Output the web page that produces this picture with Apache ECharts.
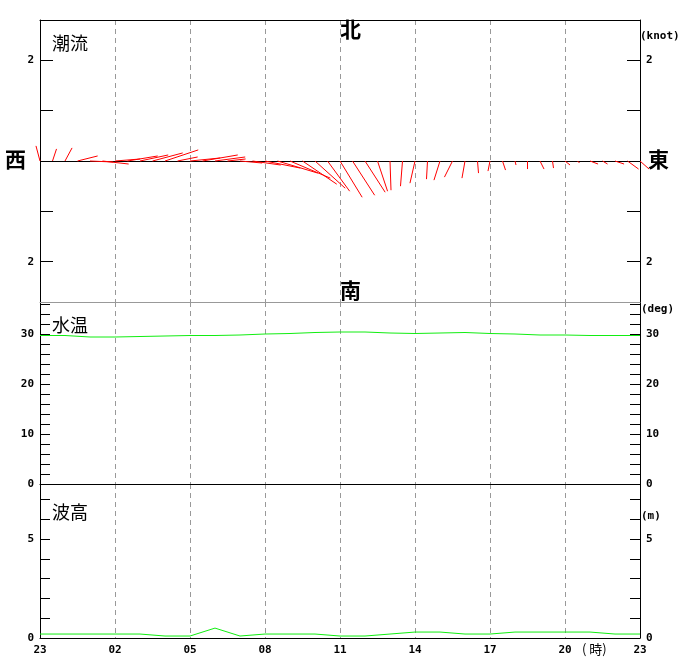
<!DOCTYPE html>
<html>
<head>
<meta charset="utf-8">
<script src="https://cdn.jsdelivr.net/npm/echarts@6/dist/echarts.min.js"></script>
<style>
  html, body { margin: 0; padding: 0; background: #fff; }
  #chart { width: 680px; height: 660px; }
</style>
</head>
<body>
<div id="chart"></div>
<script>
// 時刻ラベル（3時間ごと）
var hourLabels = ['23', '02', '05', '08', '11', '14', '17', '20', '23'];

// 潮流：30分ごと、東向き成分・北向き成分 (knot)
var currentTime = [0, 0.5, 1, 1.5, 2, 2.5, 3, 3.5, 4, 4.5, 5, 5.5, 6, 6.5, 7, 7.5,
  8, 8.5, 9, 9.5, 10, 10.5, 11, 11.5, 12, 12.5, 13, 13.5, 14, 14.5, 15, 15.5,
  16, 16.5, 17, 17.5, 18, 18.5, 19, 19.5, 20, 20.5, 21, 21.5, 22, 22.5, 23, 23.5, 24];
var currentEast = [-0.08, 0.08, 0.14, 0.40, 0.46, 0.52, 0.50, 0.60, 0.56, 0.60, 0.66, 0.40,
  0.60, 0.70, 0.60, 0.36, 0.44, 0.56, 0.70, 0.80, 0.80, 0.68, 0.60, 0.44,
  0.44, 0.44, 0.40, 0.20, 0.02, -0.04, -0.10, -0.02, -0.12, -0.16, -0.06, 0.02,
  -0.04, 0.06, 0.02, 0.00, 0.08, 0.02, 0.10, 0.04, 0.16, 0.10, 0.18, 0.22, 0.18];
var currentNorth = [0.30, 0.24, 0.26, 0.10, -0.02, -0.06, 0.04, 0.10, 0.12, 0.16, 0.22, 0.08,
  0.06, 0.12, 0.08, 0.04, -0.04, -0.08, -0.14, -0.24, -0.34, -0.46, -0.54, -0.60,
  -0.72, -0.68, -0.62, -0.60, -0.58, -0.50, -0.44, -0.36, -0.38, -0.32, -0.34, -0.24,
  -0.20, -0.18, -0.08, -0.16, -0.16, -0.14, -0.08, -0.04, -0.06, -0.06, -0.06, -0.16, -0.16];

// 水温・波高：1時間ごと
var hourTime = [0, 1, 2, 3, 4, 5, 6, 7, 8, 9, 10, 11, 12, 13, 14, 15, 16, 17, 18, 19, 20, 21, 22, 23, 24];
var waterTemp = [29.7, 29.7, 29.4, 29.4, 29.5, 29.6, 29.7, 29.7, 29.8, 30.0, 30.1, 30.3, 30.4,
  30.4, 30.2, 30.1, 30.2, 30.3, 30.1, 30.0, 29.8, 29.8, 29.7, 29.7, 29.7];
var waveHeight = [0.2, 0.2, 0.2, 0.2, 0.2, 0.1, 0.1, 0.5, 0.1, 0.2, 0.2, 0.2, 0.1,
  0.1, 0.2, 0.3, 0.3, 0.2, 0.2, 0.3, 0.3, 0.3, 0.3, 0.2, 0.2];

var currentTicks = [-2, -1, 1, 2];
var currentLabels = [-2, 2];
var tempTicks = [2, 4, 6, 8, 10, 12, 14, 16, 18, 20, 22, 24, 26, 28, 30, 32, 34, 36];
var tempLabels = [0, 10, 20, 30];
var waveTicks = [1, 2, 3, 4, 5, 6, 7];
var waveLabels = [0, 5];

var myChart = echarts.init(document.getElementById('chart'), null, { renderer: 'canvas' });

var numFont = { fontFamily: 'DejaVu Sans Mono', fontWeight: 'bold', fontSize: 11, color: '#000' };
var cjkFont = 'Noto Sans CJK JP';

function xAxisOf (grid, pos, lineColor, showSplit, showLabel) {
  return {
    type: 'value', gridIndex: grid, position: pos, min: 0, max: 24, interval: 3,
    axisLine: { show: true, onZero: false, lineStyle: { color: lineColor, width: 1 } },
    axisTick: { show: false },
    axisLabel: Object.assign({
      show: showLabel, margin: 7,
      formatter: function (v) { return hourLabels[Math.round(v / 3)]; }
    }, numFont),
    splitLine: { show: showSplit, lineStyle: { color: '#999', type: [5, 4], width: 1 } }
  };
}

function yAxisOf (grid, pos, min, max, ticks, labels, tickLen, fmt) {
  return {
    type: 'value', gridIndex: grid, position: pos, min: min, max: max,
    axisLine: { show: true, onZero: false, lineStyle: { color: '#000', width: 1 } },
    axisTick: { show: true, inside: true, length: tickLen, customValues: ticks, lineStyle: { color: '#000' } },
    axisLabel: Object.assign({ show: true, margin: 6, customValues: labels, formatter: fmt }, numFont),
    splitLine: { show: false }
  };
}

var absFmt = function (v) { return String(Math.abs(v)); };

var option = {
  backgroundColor: '#fff',
  animation: false,
  grid: [
    { left: 40, right: 40, top: 20, height: 282 },
    { left: 40, right: 40, top: 302, height: 182 },
    { left: 40, right: 40, top: 484, height: 154 }
  ],
  xAxis: [
    xAxisOf(0, 'top', '#000', true, false),
    xAxisOf(0, 'bottom', '#999', false, false),
    xAxisOf(1, 'bottom', '#000', true, false),
    xAxisOf(2, 'bottom', '#000', true, true)
  ],
  yAxis: [
    yAxisOf(0, 'left', -2.8, 2.8, currentTicks, currentLabels, 13, absFmt),
    yAxisOf(0, 'right', -2.8, 2.8, currentTicks, currentLabels, 13, absFmt),
    yAxisOf(1, 'left', 0, 36.4, tempTicks, tempLabels, 10, absFmt),
    yAxisOf(1, 'right', 0, 36.4, tempTicks, tempLabels, 10, absFmt),
    yAxisOf(2, 'left', 0, 7.78, waveTicks, waveLabels, 10, absFmt),
    yAxisOf(2, 'right', 0, 7.78, waveTicks, waveLabels, 10, absFmt)
  ],
  series: [
    {
      name: '潮流',
      type: 'custom',
      xAxisIndex: 0,
      yAxisIndex: 0,
      clip: false,
      z: 3,
      data: currentTime.map(function (t, i) { return [t, currentEast[i], currentNorth[i]]; }),
      encode: { x: 0, y: 2 },
      renderItem: function (params, api) {
        // 起点は中心線上、長さは y 軸の 1 knot 当たりの画素数で換算
        var start = api.coord([api.value(0), 0]);
        var unit = api.size([0, 1])[1];
        return {
          type: 'line',
          shape: {
            x1: start[0], y1: start[1],
            x2: start[0] + api.value(1) * unit,
            y2: start[1] - api.value(2) * unit
          },
          style: { stroke: '#ff0000', lineWidth: 1 }
        };
      },
      markLine: {
        silent: true, symbol: 'none', z: 2,
        label: { show: false },
        lineStyle: { color: '#000', type: 'solid', width: 1 },
        data: [{ yAxis: 0 }]
      }
    },
    {
      name: '水温',
      type: 'line',
      xAxisIndex: 2,
      yAxisIndex: 2,
      showSymbol: false,
      lineStyle: { color: '#11ee11', width: 1 },
      data: hourTime.map(function (t, i) { return [t, waterTemp[i]]; })
    },
    {
      name: '波高',
      type: 'line',
      xAxisIndex: 3,
      yAxisIndex: 4,
      showSymbol: false,
      lineStyle: { color: '#11ee11', width: 1 },
      data: hourTime.map(function (t, i) { return [t, waveHeight[i]]; })
    }
  ],
  graphic: [
    { type: 'text', left: 52, top: 34, style: { text: '潮流', font: '18px "' + cjkFont + '"', fill: '#000' } },
    { type: 'text', left: 52, top: 316, style: { text: '水温', font: '18px "' + cjkFont + '"', fill: '#000' } },
    { type: 'text', left: 52, top: 503, style: { text: '波高', font: '18px "' + cjkFont + '"', fill: '#000' } },
    { type: 'text', left: 340, top: 19, style: { text: '北', font: 'bold 21px "' + cjkFont + '"', fill: '#000' } },
    { type: 'text', left: 340, top: 280, style: { text: '南', font: 'bold 21px "' + cjkFont + '"', fill: '#000' } },
    { type: 'text', left: 5, top: 149, style: { text: '西', font: 'bold 21px "' + cjkFont + '"', fill: '#000' } },
    { type: 'text', left: 648, top: 149, style: { text: '東', font: 'bold 21px "' + cjkFont + '"', fill: '#000' } },
    { type: 'text', left: 640, top: 31, style: { text: '(knot)', font: 'bold 11px "DejaVu Sans Mono"', fill: '#000' } },
    { type: 'text', left: 641, top: 304, style: { text: '(deg)', font: 'bold 11px "DejaVu Sans Mono"', fill: '#000' } },
    { type: 'text', left: 641, top: 511, style: { text: '(m)', font: 'bold 11px "DejaVu Sans Mono"', fill: '#000' } },
    { type: 'text', left: 582, top: 643, style: { text: '( 時)', font: '13px "' + cjkFont + '"', fill: '#000' } }
  ]
};

myChart.setOption(option);
</script>
</body>
</html>
